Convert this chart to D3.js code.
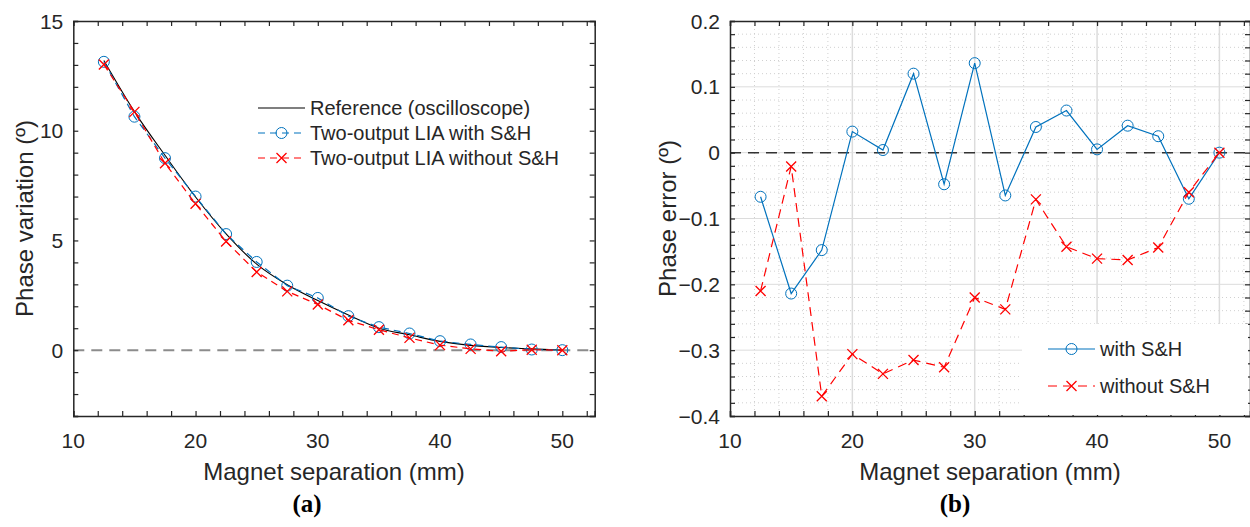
<!DOCTYPE html>
<html lang="en">

<head>
    <meta charset="UTF-8">
    <title>Phase variation / phase error</title>
    <style>
        body { margin: 0; background: #fff; }
        text { font-family: "Liberation Sans", Arial, sans-serif; fill: #262626; }
    </style>
</head>

<body>
    <script type='text/javascript' src='https://d3js.org/d3.v7.min.js'></script>

    <script>
        // magnet separation (mm)
        const separation = [12.5, 15, 17.5, 20, 22.5, 25, 27.5, 30, 32.5, 35, 37.5, 40, 42.5, 45, 47.5, 50];

        // (a) phase variation (deg)
        const reference = [13.2, 10.87, 8.88, 6.98, 5.3, 3.92, 2.98, 2.26, 1.6, 1.0, 0.7, 0.4, 0.22, 0.12, 0.06, 0];
        const withSH = [13.14, 10.64, 8.75, 7.0, 5.29, 4.02, 2.94, 2.38, 1.55, 1.05, 0.76, 0.41, 0.26, 0.14, 0.03, 0];
        const withoutSH = [13.02, 10.86, 8.52, 6.67, 4.95, 3.56, 2.68, 2.08, 1.36, 0.93, 0.56, 0.23, 0.06, -0.05, 0.02, 0];

        // (b) phase error (deg)
        const errWithSH = [-0.067, -0.214, -0.148, 0.032, 0.004, 0.12, -0.048, 0.136, -0.065, 0.039, 0.064, 0.005, 0.041, 0.025, -0.07, 0];
        const errWithoutSH = [-0.21, -0.021, -0.37, -0.306, -0.336, -0.315, -0.326, -0.22, -0.238, -0.071, -0.143, -0.161, -0.163, -0.144, -0.06, 0];

        const xTicks = [10, 20, 30, 40, 50];
        const yTicksA = [0, 5, 10, 15];
        const yTicksB = [-0.4, -0.3, -0.2, -0.1, 0, 0.1, 0.2];

        const legendA = ['Reference (oscilloscope)', 'Two-output LIA with S&H', 'Two-output LIA without S&H'];
        const legendB = ['with S&H', 'without S&H'];

        const BLUE = '#0072BD';
        const RED = '#ff0000';
        const AX = '#262626';

        let svg = d3.select('body').append('svg').attr('width', 1250).attr('height', 527);

        // draw circle / cross markers
        function marker(g, type, cx, cy, color) {
            if (type === 'o') {
                g.append('circle').attr('cx', cx).attr('cy', cy).attr('r', 5.5)
                    .style('fill', 'none').style('stroke', color).style('stroke-width', 1);
            } else {
                let s = 5;
                g.append('path').attr('d', `M${cx - s},${cy - s}L${cx + s},${cy + s}M${cx - s},${cy + s}L${cx + s},${cy - s}`)
                    .style('stroke', color).style('stroke-width', 1.3);
            }
        }

        function panel(opt) {
            let g = svg.append('g');
            let x = d3.scaleLinear().domain(opt.xdom).range([opt.left, opt.right]);
            let y = d3.scaleLinear().domain(opt.ydom).range([opt.bottom, opt.top]);

            // grid
            if (opt.grid) {
                let xMinor = d3.range(12, opt.xdom[1], 2).filter(v => v % 10 !== 0);
                let yMinor = d3.range(-0.38, 0.2, 0.02).filter(v => Math.abs(Math.round(v * 10) - v * 10) > 1e-6);
                g.selectAll('.gxm').data(xMinor).enter().append('line')
                    .attr('x1', d => x(d)).attr('x2', d => x(d)).attr('y1', opt.top).attr('y2', opt.bottom)
                    .style('stroke', '#d0d0d0').style('stroke-dasharray', '1,3');
                g.selectAll('.gym').data(yMinor).enter().append('line')
                    .attr('x1', opt.left).attr('x2', opt.right).attr('y1', d => y(d)).attr('y2', d => y(d))
                    .style('stroke', '#d0d0d0').style('stroke-dasharray', '1,3');
                g.selectAll('.gx').data(xTicks.slice(1)).enter().append('line')
                    .attr('x1', d => x(d)).attr('x2', d => x(d)).attr('y1', opt.top).attr('y2', opt.bottom)
                    .style('stroke', '#dcdcdc').style('stroke-width', 1.5);
                g.selectAll('.gy').data(opt.yticks.slice(1, -1)).enter().append('line')
                    .attr('x1', opt.left).attr('x2', opt.right).attr('y1', d => y(d)).attr('y2', d => y(d))
                    .style('stroke', '#dcdcdc').style('stroke-width', 1);
            }

            // zero line
            g.append('line').attr('x1', opt.left).attr('x2', opt.right).attr('y1', y(0)).attr('y2', y(0))
                .style('stroke', opt.zeroColor).style('stroke-width', opt.zeroWidth).style('stroke-dasharray', '11,7');

            // series
            opt.series.forEach(s => {
                let pts = separation.map((d, i) => [x(d), y(s.values[i])]);
                let line = d3.line().curve(s.curve || d3.curveLinear);
                g.append('path').attr('d', line(pts))
                    .style('fill', 'none').style('stroke', s.color).style('stroke-width', s.width || 1.2)
                    .style('stroke-dasharray', s.dash || null);
                if (s.marker) pts.forEach(p => marker(g, s.marker, p[0], p[1], s.color));
            });

            // axes: inward ticks on all four sides
            let tl = 5;
            let bottom = d3.axisBottom(x).tickValues(d3.range(10, opt.xdom[1], 2)).tickSize(-tl).tickFormat('');
            let top = d3.axisTop(x).tickValues(d3.range(10, opt.xdom[1], 2)).tickSize(-tl).tickFormat('');
            let left = d3.axisLeft(y).tickValues(opt.yminor).tickSize(-tl).tickFormat('');
            let right = d3.axisRight(y).tickValues(opt.yminor).tickSize(-tl).tickFormat('');
            [[bottom, `translate(0,${opt.bottom})`], [top, `translate(0,${opt.top})`],
             [left, `translate(${opt.left},0)`], [right, `translate(${opt.right},0)`]].forEach(a => {
                let ax = g.append('g').attr('transform', a[1]).call(a[0]);
                ax.select('.domain').style('stroke', AX).style('stroke-width', 1.5);
                ax.selectAll('.tick line').style('stroke', AX).style('stroke-width', 1.2);
            });

            // tick labels
            g.selectAll('.xl').data(xTicks).enter().append('text')
                .attr('x', d => x(d)).attr('y', opt.bottom + 32)
                .attr('text-anchor', 'middle').style('font-size', '21px').text(d => d);
            g.selectAll('.yl').data(opt.yticks).enter().append('text')
                .attr('x', opt.left - 10).attr('y', d => y(d) + 7.5)
                .attr('text-anchor', 'end').style('font-size', '21px').text(opt.yfmt);

            // axis titles
            g.append('text').attr('x', (opt.left + opt.right) / 2).attr('y', opt.bottom + 64)
                .attr('text-anchor', 'middle').style('font-size', '24px').text('Magnet separation (mm)');
            g.append('text').attr('transform', `translate(${opt.ylabX},${(opt.top + opt.bottom) / 2}) rotate(-90)`)
                .attr('text-anchor', 'middle').style('font-size', '24px').text(opt.ylabel);

            // panel tag
            g.append('text').attr('x', opt.tagX).attr('y', 512).attr('text-anchor', 'middle')
                .style('font-family', '"Liberation Serif", "DejaVu Serif", serif').style('font-weight', 'bold')
                .style('font-size', '25px').style('fill', '#000').text(opt.tag);

            return { g: g, x: x, y: y };
        }

        // panel (a)
        let pa = panel({
            left: 73.3, right: 594.7, top: 21, bottom: 416,
            xdom: [10, 52.65], ydom: [-3, 15],
            yticks: yTicksA, yminor: d3.range(-3, 15.5, 1), yfmt: d => d,
            zeroColor: '#8c8c8c', zeroWidth: 2, grid: false,
            ylabel: 'Phase variation (º)', ylabX: 33, tag: '(a)', tagX: 307,
            series: [
                { values: reference, color: '#000', width: 1.1, curve: d3.curveMonotoneX },
                { values: withSH, color: BLUE, dash: '7,5', marker: 'o' },
                { values: withoutSH, color: RED, dash: '7,5', marker: 'x' }
            ]
        });

        // legend (a), no box
        let legA = pa.g.append('g');
        let styleA = [['#000', null, null], [BLUE, '7,5', 'o'], [RED, '7,5', 'x']];
        legendA.forEach((t, i) => {
            let ly = 108 + i * 25;
            legA.append('line').attr('x1', 258).attr('x2', 305).attr('y1', ly).attr('y2', ly)
                .style('stroke', styleA[i][0]).style('stroke-width', 1.2).style('stroke-dasharray', styleA[i][1]);
            if (styleA[i][2]) marker(legA, styleA[i][2], 281.5, ly, styleA[i][0]);
            legA.append('text').attr('x', 310).attr('y', ly + 7).style('font-size', '20px').text(t);
        });

        // panel (b)
        let pb = panel({
            left: 730, right: 1250, top: 21, bottom: 416,
            xdom: [10, 52.5], ydom: [-0.4, 0.2],
            yticks: yTicksB, yminor: d3.range(-0.4, 0.21, 0.02), yfmt: d => d3.format('.1~f')(d),
            zeroColor: '#333', zeroWidth: 1.5, grid: true,
            ylabel: 'Phase error (º)', ylabX: 676, tag: '(b)', tagX: 955,
            series: [
                { values: errWithSH, color: BLUE, marker: 'o' },
                { values: errWithoutSH, color: RED, dash: '9,6', marker: 'x' }
            ]
        });

        // legend (b), white box
        let legB = pb.g.append('g');
        legB.append('rect').attr('x', 1022).attr('y', 324).attr('width', 226).attr('height', 91).style('fill', '#fff');
        let styleB = [[BLUE, null, 'o'], [RED, '9,6', 'x']];
        legendB.forEach((t, i) => {
            let ly = 349 + i * 37;
            legB.append('line').attr('x1', 1048).attr('x2', 1095).attr('y1', ly).attr('y2', ly)
                .style('stroke', styleB[i][0]).style('stroke-width', 1.2).style('stroke-dasharray', styleB[i][1]);
            marker(legB, styleB[i][2], 1071.5, ly, styleB[i][0]);
            legB.append('text').attr('x', 1100).attr('y', ly + 7).style('font-size', '20px').text(t);
        });
    </script>
</body>

</html>
